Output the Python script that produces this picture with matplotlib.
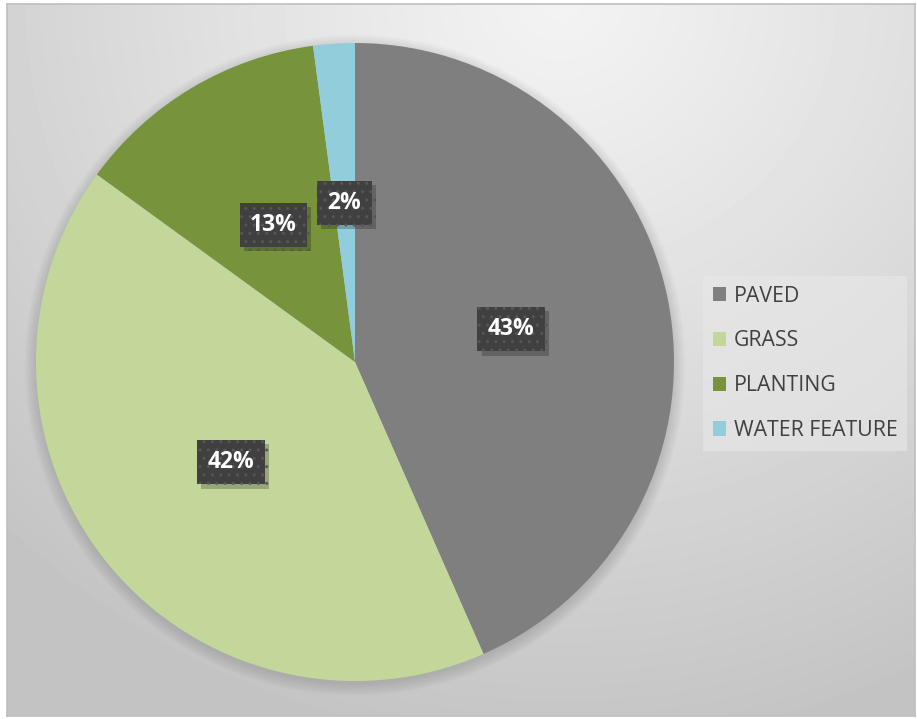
import numpy as np
import matplotlib.pyplot as plt
import matplotlib.patheffects as pe

# data
categories = ["PAVED", "GRASS", "PLANTING", "WATER FEATURE"]
shares = [43.4, 41.6, 12.9, 2.1]
labels_pct = ["43%", "42%", "13%", "2%"]
colors = ["#7f7f7f", "#c4d79b", "#77933c", "#92cddc"]

W, H = 917, 719
fig = plt.figure(figsize=(W / 100, H / 100), dpi=100)
fig.patch.set_facecolor("white")

# chart area background: soft radial grey gradient
bx0, by0, bx1, by1 = 7, 4, 915, 716
bg = fig.add_axes([bx0 / W, 1 - by1 / H, (bx1 - bx0) / W, (by1 - by0) / H])
xx, yy = np.meshgrid(np.arange(bx0, bx1), np.arange(by0, by1))
d = np.hypot(xx - 560, (yy - 0) * 1.05)
v = 243 - 48 * np.clip(d / 800, 0, 1) ** 1.1
bg.imshow(v, cmap="gray", vmin=0, vmax=255, aspect="auto", interpolation="bilinear")
bg.set_xticks([])
bg.set_yticks([])
for s in bg.spines.values():
    s.set_color("#bfbfbf")
    s.set_linewidth(1.2)

# pie
cx, cy, r = 355, 362, 319
ax = fig.add_axes([(cx - r) / W, 1 - (cy + r) / H, 2 * r / W, 2 * r / H])
ax.set_facecolor("none")

# soft shadow around the pie
for k in range(8):
    ax.add_patch(plt.Circle((0, -0.01), 1.0 + 0.005 * k, color="black",
                            alpha=0.015, lw=0, zorder=0, clip_on=False))

wedges, _ = ax.pie(shares, colors=colors, startangle=90, counterclock=False,
                   radius=1, wedgeprops=dict(linewidth=0, zorder=2))

for w, lab in zip(wedges, labels_pct):
    mid = np.deg2rad((w.theta1 + w.theta2) / 2)
    t = ax.text(0.5 * np.cos(mid), 0.5 * np.sin(mid), lab, ha="center", va="center",
                fontsize=16.5, fontweight="bold", color="white", family="Open Sans",
                zorder=5,
                bbox=dict(boxstyle="square,pad=0.45", facecolor="#404040",
                          edgecolor="#565656", linewidth=0, hatch=".."))
    t.get_bbox_patch().set_path_effects([
        pe.SimplePatchShadow(offset=(3, -3), shadow_rgbFace="black", alpha=0.22),
        pe.Normal()])

ax.set_xlim(-1, 1)
ax.set_ylim(-1, 1)
ax.axis("off")

# legend
leg = fig.legend(wedges, categories, loc="upper left",
                 bbox_to_anchor=(703 / W, 1 - 276 / H),
                 prop=dict(family="Open Sans", size=15.3),
                 frameon=True, fancybox=False, handlelength=0.65, handleheight=0.65,
                 handletextpad=0.35, labelspacing=1.12, borderpad=0.45,
                 borderaxespad=0)
leg.get_frame().set_facecolor("#e8e8e8")
leg.get_frame().set_alpha(0.6)
leg.get_frame().set_linewidth(0)
for txt in leg.get_texts():
    txt.set_color("#404040")

fig.savefig("out.png", dpi=100)
